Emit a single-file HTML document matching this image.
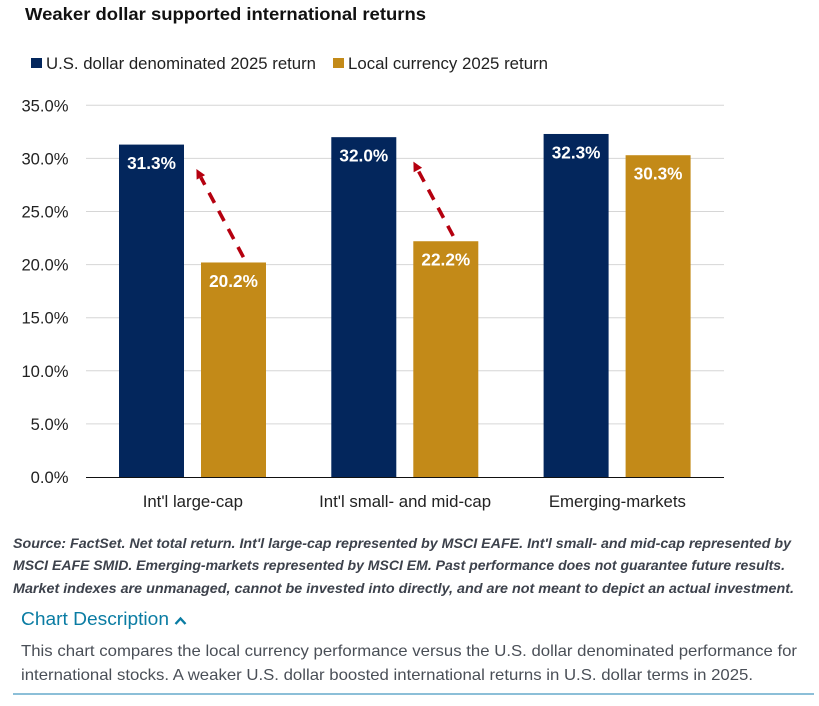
<!DOCTYPE html>
<html lang="en">
<head>
<meta charset="utf-8">
<title>Weaker dollar supported international returns</title>
<style>
  html, body { margin: 0; padding: 0; background: #ffffff; width: 819px; height: 706px; overflow: hidden; }
  svg { display: block; }
  text { font-family: "Liberation Sans", sans-serif; }
</style>
</head>
<body>
<svg id="chart" xmlns="http://www.w3.org/2000/svg" width="819" height="706" viewBox="0 0 819 706">
  <text x="25" y="20" font-size="17.5" font-weight="700" fill="#111111" textLength="401" lengthAdjust="spacingAndGlyphs">Weaker dollar supported international returns</text>

  <rect x="31" y="58" width="11" height="10" fill="#03265c"></rect>
  <text x="46" y="69" font-size="16.5" fill="#222222" textLength="270" lengthAdjust="spacingAndGlyphs">U.S. dollar denominated 2025 return</text>
  <rect x="333" y="58" width="11" height="10" fill="#c38a18"></rect>
  <text x="348" y="69" font-size="16.5" fill="#222222" textLength="200" lengthAdjust="spacingAndGlyphs">Local currency 2025 return</text>

  <g id="grid"></g>
  <g id="bars"></g>
  <g id="arrows"></g>
  <g id="axis"></g>

  <g font-size="14" font-weight="700" font-style="italic" fill="#3d424c">
    <text x="13" y="548" textLength="778" lengthAdjust="spacingAndGlyphs">Source: FactSet. Net total return. Int'l large-cap represented by MSCI EAFE. Int'l small- and mid-cap represented by</text>
    <text x="13" y="570" textLength="772" lengthAdjust="spacingAndGlyphs">MSCI EAFE SMID. Emerging-markets represented by MSCI EM. Past performance does not guarantee future results.</text>
    <text x="13" y="593" textLength="781" lengthAdjust="spacingAndGlyphs">Market indexes are unmanaged, cannot be invested into directly, and are not meant to depict an actual investment.</text>
  </g>

  <g style="cursor:pointer">
    <text x="21" y="625" font-size="18" fill="#0a7ca3" textLength="148" lengthAdjust="spacingAndGlyphs">Chart Description</text>
    <path d="M175.5 624 L180.5 618.5 L185.5 624" fill="none" stroke="#0a7ca3" stroke-width="2.4"></path>
  </g>
  <g font-size="16" fill="#4a4f57">
    <text x="21" y="656" textLength="776" lengthAdjust="spacingAndGlyphs">This chart compares the local currency performance versus the U.S. dollar denominated performance for</text>
    <text x="21" y="680" textLength="732" lengthAdjust="spacingAndGlyphs">international stocks. A weaker U.S. dollar boosted international returns in U.S. dollar terms in 2025.</text>
  </g>
  <rect x="13" y="693" width="801" height="2" fill="#8cbfd8"></rect>
</svg>
<script>
const categories = ["Int'l large-cap", "Int'l small- and mid-cap", "Emerging-markets"];
const usdReturns = [31.3, 32.0, 32.3];
const localReturns = [20.2, 22.2, 30.3];
const yTickValues = [0, 5, 10, 15, 20, 25, 30, 35];
const arrowStartValues = [20.7, 22.7];
const arrowEndValues = [29.0, 29.7];

const NS = 'http://www.w3.org/2000/svg';
const plot = { left: 86, right: 724, top: 105.3, bottom: 477, max: 35 };
const yScale = function (v) { return plot.bottom - (v / plot.max) * (plot.bottom - plot.top); };
const bandWidth = 212.3;
const bandCenter = function (i) { return 192.4 + i * bandWidth; };

function make(tag, attrs, parent, text) {
  const el = document.createElementNS(NS, tag);
  for (const k in attrs) el.setAttribute(k, attrs[k]);
  if (text !== undefined) el.textContent = text;
  parent.appendChild(el);
  return el;
}

const gridG = document.getElementById('grid');
const axisG = document.getElementById('axis');
const barsG = document.getElementById('bars');
const arrowsG = document.getElementById('arrows');

yTickValues.forEach(function (t) {
  if (t > 0) {
    const line = make('line', { x1: plot.left, x2: plot.right, y1: yScale(t), y2: yScale(t), stroke: '#d6d6d6', 'stroke-width': 1 }, gridG);
    
    
  }
  const label = make('text', { x: 68.5, y: yScale(t) + 6, 'text-anchor': 'end', 'font-size': 16.6, fill: '#222222' }, axisG, t.toFixed(1) + '%');
  
  
});

const baseline = make('line', { x1: plot.left, x2: plot.right, y1: plot.bottom + 0.5, y2: plot.bottom + 0.5, stroke: '#111111', 'stroke-width': 1 }, axisG);



function drawBar(value, x, width, color, nameSuffix) {
  const top = yScale(value);
  const rect = make('rect', { x: x, y: top, width: width, height: plot.bottom - top, fill: color }, barsG);
  
  
  const label = make('text', { x: x + width / 2, y: top + 24.5, 'text-anchor': 'middle', 'font-size': 17.2, 'font-weight': 700, fill: '#ffffff' }, barsG, value.toFixed(1) + '%');
  
  
}

categories.forEach(function (c, i) {
  const cx = bandCenter(i);
  drawBar(usdReturns[i], cx - 73.4, 65, '#03265c', 'usd-' + i);
  drawBar(localReturns[i], cx + 8.6, 65, '#c38a18', 'local-' + i);
  const label = make('text', { x: cx + 0.4, y: 507, 'text-anchor': 'middle', 'font-size': 16.8, fill: '#222222' }, axisG, c);
  
  
});

function drawArrow(i, startDx, endDx) {
  const x1 = bandCenter(i) + startDx, y1 = yScale(arrowStartValues[i]);
  const x2 = bandCenter(i) + endDx, y2 = yScale(arrowEndValues[i]);
  const len = Math.hypot(x2 - x1, y2 - y1);
  const ux = (x2 - x1) / len, uy = (y2 - y1) / len;
  const headLen = 9.5, headHalf = 4.8;
  const bx = x2 - ux * headLen, by = y2 - uy * headLen;
  const shaft = make('line', { x1: x1, y1: y1, x2: bx, y2: by, stroke: '#b5000f', 'stroke-width': 3.6, 'stroke-dasharray': '11.5 9' }, arrowsG);
  
  
  const pts = [x2, y2, bx - uy * headHalf, by + ux * headHalf, bx + uy * headHalf, by - ux * headHalf].join(' ');
  const head = make('polygon', { points: pts, fill: '#b5000f' }, arrowsG);
  
  
}
drawArrow(0, 51, 4);
drawArrow(1, 48.5, 8.7);
</script>
</body>
</html>
